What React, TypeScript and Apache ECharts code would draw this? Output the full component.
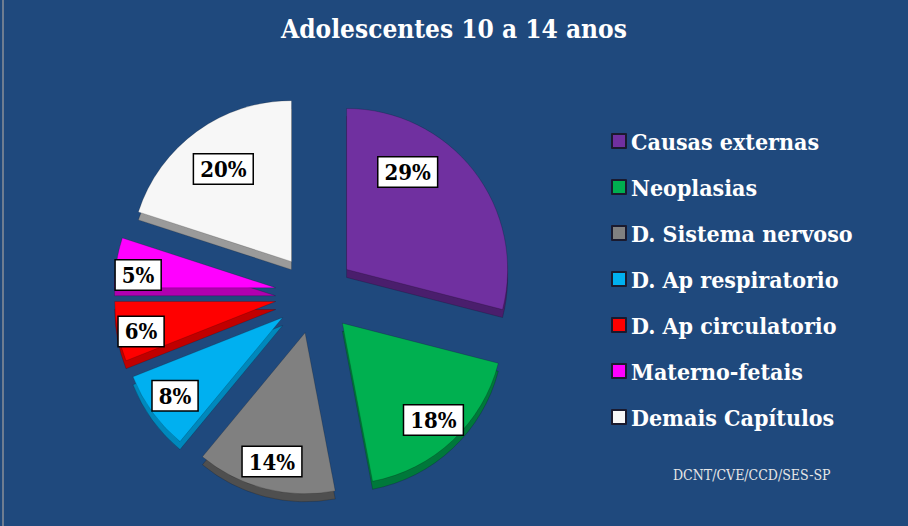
import React, { useEffect, useRef } from "react";
import * as echarts from "echarts";

const categories = [
  "Causas externas",
  "Neoplasias",
  "D. Sistema nervoso",
  "D. Ap respiratorio",
  "D. Ap circulatorio",
  "Materno-fetais",
  "Demais Capítulos",
];
const values = [29, 18, 14, 8, 6, 5, 20];
const topColors = ["#7030A0", "#00B050", "#808080", "#00B0F0", "#FF0000", "#FF00FF", "#F7F7F7"];
const sideColors = ["#4A1E6C", "#00783A", "#4F4F4F", "#0088BC", "#C00000", "#B000B0", "#9A9A9A"];
const titleText = "Adolescentes 10 a 14 anos";
const sourceText = "DCNT/CVE/CCD/SES-SP";

const FONT = "'DejaVu Serif Condensed', 'DejaVu Serif', serif";

export default function App() {
  const ref = useRef<HTMLDivElement>(null);
  useEffect(() => {
    if (!ref.current) return;
    const chart = echarts.init(ref.current, null, { renderer: "svg" });
    const center = [315, 294];
    const radius = 161;
    const offset = 40;
    const mk = (colors: string[]) =>
      categories.map((name, i) => ({
        name,
        value: values[i],
        selected: true,
        itemStyle: { color: colors[i] },
      }));
    chart.setOption({
      animation: false,
      backgroundColor: "#1F497D",
      title: [
        {
          text: titleText,
          left: "center",
          top: 11,
          textStyle: { color: "#FFFFFF", fontFamily: FONT, fontWeight: "bold", fontSize: 26 },
        },
        {
          text: sourceText,
          left: 668,
          top: 463,
          textStyle: { color: "#E6E6E6", fontFamily: FONT, fontWeight: "normal", fontSize: 14 },
        },
      ],
      legend: {
        orient: "vertical",
        left: 606,
        top: 124,
        itemWidth: 14,
        itemHeight: 14,
        itemGap: 22,
        icon: "rect",
        data: categories.map((name, i) => ({
          name,
          itemStyle: { color: topColors[i], borderColor: "#1A1A2E", borderWidth: 2 },
        })),
        selectedMode: false,
        textStyle: {
          color: "#FFFFFF",
          fontFamily: FONT,
          fontWeight: "bold",
          fontSize: 23,
          lineHeight: 24,
        },
      },
      series: [
        {
          type: "pie",
          name: "side",
          center: [center[0], center[1] + 8],
          radius: [0, radius],
          startAngle: 90,
          selectedMode: "multiple",
          selectedOffset: offset,
          silent: true,
          label: { show: false },
          labelLine: { show: false },
          legendHoverLink: false,
          itemStyle: { borderColor: "rgba(0,0,0,0.35)", borderWidth: 0.5 },
          data: mk(sideColors),
          z: 1,
        },
        {
          type: "pie",
          name: "top",
          center,
          radius: [0, radius],
          startAngle: 90,
          selectedMode: "multiple",
          selectedOffset: offset,
          silent: true,
          label: { show: false },
          labelLine: { show: false },
          itemStyle: { borderColor: "rgba(0,0,0,0.35)", borderWidth: 0.5 },
          data: mk(topColors),
          z: 2,
        },
        {
          type: "pie",
          name: "labels",
          center,
          radius: [0, 260],
          startAngle: 90,
          selectedMode: "multiple",
          selectedOffset: offset,
          silent: true,
          labelLine: { show: false },
          itemStyle: { color: "rgba(0,0,0,0)" },
          label: {
            show: true,
            position: "inside",
            formatter: (p: any) => `${p.value}%`,
            color: "#000000",
            fontFamily: FONT,
            fontWeight: "bold",
            fontSize: 22,
            backgroundColor: "#FFFFFF",
            borderColor: "#000000",
            borderWidth: 1.5,
            padding: [4, 6, 3, 6],
          },
          labelLayout: (p: any) => {
            if (p.dataIndex === 0) return { dx: -44, dy: -16 };
            if (p.dataIndex === 6) return { dx: 10, dy: 15 };
            if (p.dataIndex === 5) return { dx: -6, dy: 8 };
            if (p.dataIndex === 4) return { dx: -4, dy: 5 };
            return {};
          },
          data: categories.map((name, i) => ({ name, value: values[i], selected: true })),
          z: 3,
        },
      ],
      graphic: [
        {
          type: "line",
          shape: { x1: 3, y1: 0, x2: 3, y2: 526 },
          style: { stroke: "#8A8F99", lineWidth: 1.5 },
          z: 10,
        },
      ],
    });
    return () => chart.dispose();
  }, []);
  return (
    <div
      ref={ref}
      style={{ position: "fixed", left: 0, top: 0, width: 908, height: 526 }}
    />
  );
}
